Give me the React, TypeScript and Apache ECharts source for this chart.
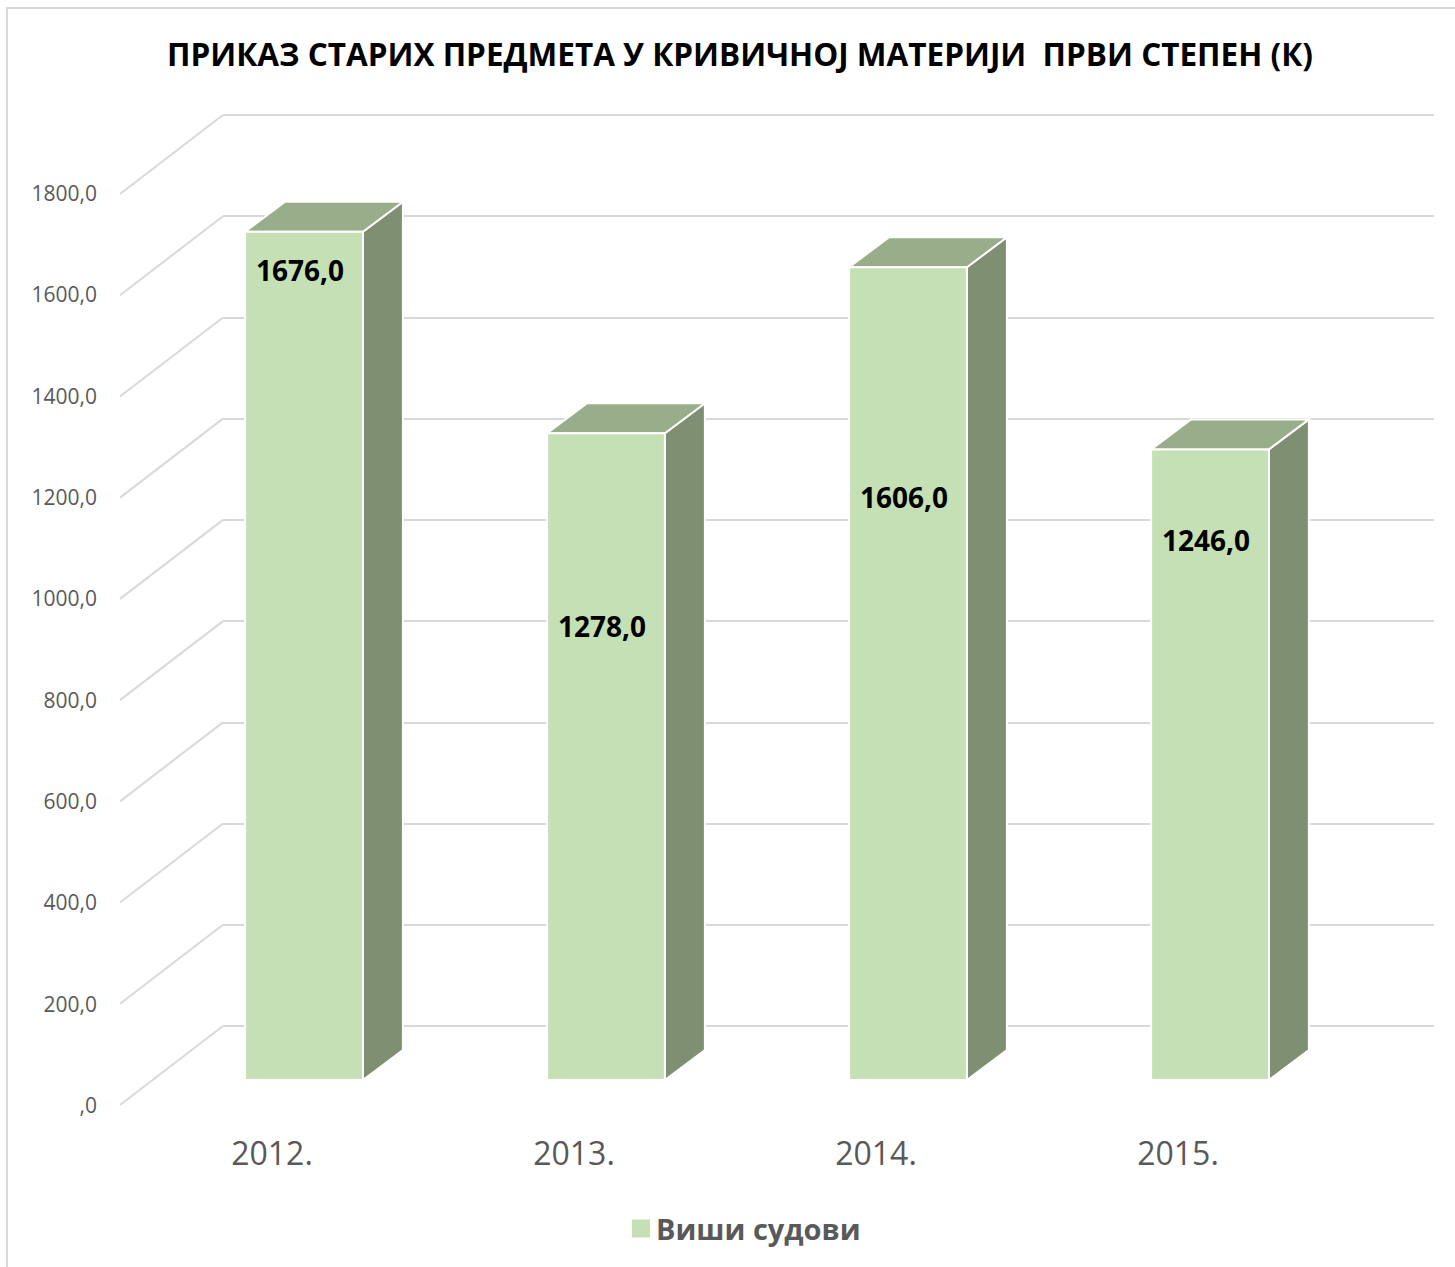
import React, { useEffect, useRef } from "react";
import * as echarts from "echarts";

const TITLE = "ПРИКАЗ СТАРИХ ПРЕДМЕТА У КРИВИЧНОЈ МАТЕРИЈИ  ПРВИ СТЕПЕН (К)";
const SERIES_NAME = "Виши судови";
const categories = ["2012.", "2013.", "2014.", "2015."];
const values = [1676, 1278, 1606, 1246];
const yTicks = [0, 200, 400, 600, 800, 1000, 1200, 1400, 1600, 1800];
// vertical placement of each value label (in axis units), as Excel drew them
const labelAt = [1601, 897, 1152, 1067];

const FONT = "'Open Sans', 'Noto Sans', sans-serif";
const FRONT = "#C5E0B4";
const TOP = "#98AE8A";
const SIDE = "#7F8F72";
const GRID = "#D9D9D9";
const TEXT = "#595959";

const fmt = (v: number) => (v === 0 ? ",0" : v.toFixed(1).replace(".", ","));

export default function App() {
  const ref = useRef<HTMLDivElement>(null);
  useEffect(() => {
    if (!ref.current) return;
    const chart = echarts.init(ref.current, undefined, { renderer: "svg" });
    const DX = 40;
    const DY = -30;
    const BACK_DX = 103;
    const BACK_DY = 79;
    chart.setOption({
      animation: false,
      backgroundColor: "#ffffff",
      grid: [
        { left: 223, right: 21, top: 115, height: 911 },
        { left: 120, width: 100, top: 193, height: 912 },
        { left: 153, width: 1208, top: 169, height: 911 },
        { left: 121, width: 1208, top: 1000, height: 105 },
      ],
      xAxis: [
        { gridIndex: 0, type: "value", min: 0, max: 1, show: false },
        { gridIndex: 1, type: "value", min: 0, max: 1, show: false },
        { gridIndex: 2, type: "category", data: categories, show: false },
        {
          gridIndex: 3,
          type: "category",
          data: categories,
          axisLine: { show: false },
          axisTick: { show: false },
          axisLabel: {
            fontFamily: FONT,
            fontSize: 32,
            color: TEXT,
            margin: 47,
            verticalAlign: "middle",
          },
        },
      ],
      yAxis: [
        {
          gridIndex: 0,
          type: "value",
          min: 0,
          max: 1800,
          interval: 200,
          axisLine: { show: false },
          axisTick: { show: false },
          axisLabel: { show: false },
          splitLine: { lineStyle: { color: GRID, width: 2 } },
        },
        {
          gridIndex: 1,
          type: "value",
          min: 0,
          max: 1800,
          interval: 200,
          axisLine: { show: false },
          axisTick: { show: false },
          splitLine: { show: false },
          axisLabel: {
            fontFamily: FONT,
            fontSize: 21,
            color: TEXT,
            margin: 23,
            formatter: (v: number) => fmt(v),
          },
        },
        { gridIndex: 2, type: "value", min: 0, max: 1800, show: false },
        { gridIndex: 3, type: "value", min: 0, max: 1, show: false },
      ],
      legend: {
        data: [SERIES_NAME],
        left: 627,
        top: 1209,
        icon: "rect",
        itemWidth: 18,
        itemHeight: 18,
        textStyle: {
          fontFamily: FONT,
          fontSize: 29,
          fontWeight: "bold",
          color: TEXT,
          padding: [0, 0, 0, 1],
        },
      },
      graphic: [
        {
          type: "rect",
          shape: { x: 7, y: 8, width: 1600, height: 1400 },
          style: { fill: "none", stroke: GRID, lineWidth: 2 },
          silent: true,
          z: -10,
        },
        {
          type: "text",
          x: 740,
          y: 53,
          style: {
            text: TITLE,
            fontFamily: FONT,
            fontSize: 31.5,
            fontWeight: "bold",
            fill: "#000000",
            align: "center",
            verticalAlign: "middle",
          },
        },
      ],
      series: [
        {
          type: "custom",
          name: "diagonals",
          xAxisIndex: 0,
          yAxisIndex: 0,
          silent: true,
          z: 1,
          data: yTicks.map((t) => [0, t]),
          renderItem: (params: any, api: any) => {
            const p = api.coord([0, api.value(1)]);
            return {
              type: "line",
              shape: { x1: p[0] - BACK_DX, y1: p[1] + BACK_DY, x2: p[0], y2: p[1] },
              style: { stroke: GRID, lineWidth: 2 },
            };
          },
        },
        {
          type: "custom",
          name: SERIES_NAME,
          xAxisIndex: 2,
          yAxisIndex: 2,
          z: 5,
          itemStyle: { color: FRONT },
          data: values.map((v, i) => [i, v]),
          renderItem: (params: any, api: any) => {
            const idx = api.value(0);
            const v = api.value(1);
            const topP = api.coord([idx, v]);
            const baseP = api.coord([idx, 0]);
            const bw = api.size([1, 0])[0] * 0.39;
            const x0 = topP[0] - bw / 2;
            const x1 = x0 + bw;
            const yt = topP[1];
            const yb = baseP[1];
            const lp = api.coord([idx, labelAt[params.dataIndex]]);
            return {
              type: "group",
              children: [
                {
                  type: "polygon",
                  shape: {
                    points: [
                      [x1, yt],
                      [x1 + DX, yt + DY],
                      [x1 + DX, yb + DY],
                      [x1, yb],
                    ],
                  },
                  style: { fill: SIDE, stroke: "#ffffff", lineWidth: 2 },
                },
                {
                  type: "polygon",
                  shape: {
                    points: [
                      [x0, yt],
                      [x1, yt],
                      [x1 + DX, yt + DY],
                      [x0 + DX, yt + DY],
                    ],
                  },
                  style: { fill: TOP, stroke: "#ffffff", lineWidth: 2 },
                },
                {
                  type: "rect",
                  shape: { x: x0, y: yt, width: bw, height: yb - yt },
                  style: { fill: FRONT, stroke: "#ffffff", lineWidth: 2 },
                },
                {
                  type: "text",
                  x: topP[0] - 4,
                  y: lp[1],
                  style: {
                    text: fmt(v),
                    fontFamily: FONT,
                    fontSize: 28,
                    fontWeight: "bold",
                    fill: "#000000",
                    align: "center",
                    verticalAlign: "middle",
                  },
                },
              ],
            };
          },
        },
      ],
    });
    return () => chart.dispose();
  }, []);
  return (
    <div
      ref={ref}
      style={{ position: "absolute", left: 0, top: 0, width: 1455, height: 1267, overflow: "hidden" }}
    />
  );
}
